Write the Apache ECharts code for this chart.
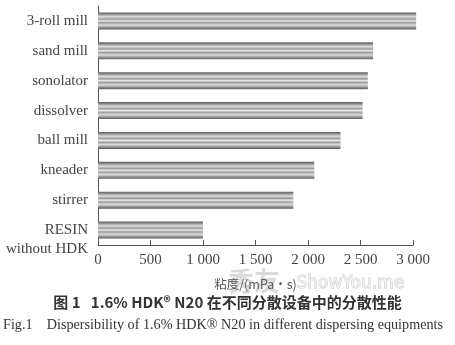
<!DOCTYPE html>
<html><head><meta charset="utf-8">
<script src="https://cdn.jsdelivr.net/npm/echarts@6/dist/echarts.min.js"></script>
<style>html,body{margin:0;padding:0;background:#fff}#c{width:455px;height:345px}</style>
</head><body><div id="c"></div>
<script>
const categories = ['3-roll mill','sand mill','sonolator','dissolver','ball mill','kneader','stirrer','RESIN\nwithout HDK'];
const values = [3030, 2620, 2570, 2520, 2310, 2060, 1860, 1000];
const xTicks = [0, 500, 1000, 1500, 2000, 2500, 3000];
const axisName = '粘度/(mPa·s)';
const captionCn = '图 1   1.6% HDK® N20 在不同分散设备中的分散性能';
const captionEn = 'Fig.1    Dispersibility of 1.6% HDK® N20 in different dispersing equipments';

const chart = echarts.init(document.getElementById('c'));
const barGrad = new echarts.graphic.LinearGradient(0,0,0,1,[
  {offset:0,color:'#5e5e5e'},{offset:0.1,color:'#8a8a8a'},{offset:0.25,color:'#dcdcdc'},
  {offset:0.4,color:'#9c9c9c'},{offset:0.5,color:'#eeeeee'},{offset:0.6,color:'#9c9c9c'},
  {offset:0.75,color:'#dcdcdc'},{offset:0.9,color:'#8a8a8a'},{offset:1,color:'#5e5e5e'}]);
function fmt(v){ return v >= 1000 ? Math.floor(v/1000) + ' ' + String(v%1000).padStart(3,'0') : String(v); }
chart.setOption({
  animation:false,
  grid:{left:98,right:42,top:6,bottom:100},
  xAxis:{type:'value',min:xTicks[0],max:xTicks[xTicks.length-1],interval:500,
    axisLine:{show:true,lineStyle:{color:'#555',width:1}},
    axisTick:{show:true,inside:true,length:5,lineStyle:{color:'#555'}},
    splitLine:{show:false},
    axisLabel:{formatter:fmt,color:'#444',fontFamily:'Liberation Serif',fontSize:15,margin:8},
    name:axisName,nameLocation:'middle',nameGap:33,
    nameTextStyle:{color:'#555',fontFamily:'Noto Sans CJK SC',fontSize:12.5}},
  yAxis:{type:'category',data:categories,inverse:true,
    axisLine:{show:true,lineStyle:{color:'#555',width:1}},
    axisTick:{show:false},
    axisLabel:{color:'#444',fontFamily:'Liberation Serif',fontSize:15,margin:10,lineHeight:19,align:'right',
      interval:0,hideOverlap:false,showMinLabel:true,showMaxLabel:true,
      formatter:v => v.indexOf('\n') >= 0 ? '\n' + v : v}},
  series:[{type:'bar',data:values,barWidth:17,clip:false,itemStyle:{color:barGrad},silent:true}],
  graphic:[
    {type:'text',left:'center',top:295,style:{text:captionCn,fontFamily:'Noto Sans CJK SC',fontSize:15,fontWeight:'bold',fill:'#333'}},
    {type:'text',left:3,top:318,style:{text:captionEn,fontFamily:'Liberation Serif',fontSize:14.2,fill:'#333'}},
    {type:'text',left:228,top:268,style:{text:'秀友',fontFamily:'Noto Sans CJK SC',fontSize:26,fontWeight:'bold',fill:'rgba(150,150,150,0.35)'}},
    {type:'text',left:296,top:275,style:{text:'ShowYou.me',fontFamily:'DejaVu Sans',fontSize:17,fill:'rgba(255,255,255,0.6)',stroke:'rgba(150,150,150,0.5)',lineWidth:1}}
  ]
});
</script></body></html>
